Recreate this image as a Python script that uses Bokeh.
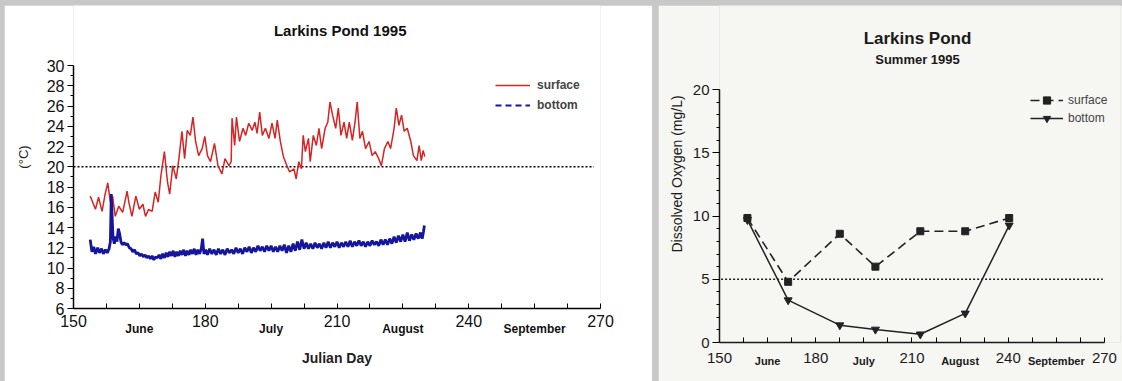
from bokeh.plotting import figure
from bokeh.models import (Range1d, FixedTicker, Legend, LegendItem, LinearAxis, Label)
from bokeh.layouts import row
from bokeh.embed import file_html
from bokeh.resources import INLINE

FONT = "Liberation Sans"

# ---------------- data: temperature (left panel) ----------------
surface_day = [153.8, 154.1, 155.0, 155.7, 156.5, 157.2, 157.8, 158.4, 158.9, 159.5, 160.3, 161.2,
               162.2, 162.6, 163.3, 164.2, 165.0, 165.8, 166.4, 167.1, 167.9, 168.6, 169.3, 169.9,
               170.7, 171.4, 171.9, 172.6, 173.4, 174.0, 174.7, 175.3, 175.9, 176.6, 177.2, 177.8,
               178.5, 179.3, 179.9, 180.5, 181.2, 182.1, 182.9, 183.8, 184.5, 185.4, 185.9, 186.1,
               186.7, 187.1, 187.8, 188.6, 189.2, 189.9, 190.7, 191.3, 191.8, 192.4, 193.0, 193.7,
               194.5, 195.2, 195.9, 196.4, 197.1, 197.8, 198.6, 199.2, 200.2, 200.7, 201.3, 201.9,
               202.3, 202.8, 203.5, 203.9, 204.6, 205.3, 205.9, 206.5, 207.3, 207.9, 208.4, 209.0,
               209.7, 210.3, 210.9, 211.6, 212.2, 212.8, 213.5, 214.1, 214.6, 215.2, 215.8, 216.5,
               217.3, 218.0, 218.7, 219.5, 220.1, 220.8, 221.6, 222.2, 223.0, 223.5, 224.1, 224.7,
               225.3, 226.0, 226.8, 227.4, 228.2, 228.7, 229.2, 229.6, 230.0]
surface_temp = [17.1, 16.8, 15.8, 17.0, 15.6, 17.3, 18.4, 16.5, 17.1, 15.1, 16.1, 15.5,
                17.6, 16.5, 15.1, 17.1, 15.8, 16.3, 15.1, 15.8, 15.6, 17.5, 16.5, 19.1,
                21.5, 18.5, 17.3, 20.1, 18.8, 20.8, 23.5, 20.8, 23.6, 23.1, 24.9, 22.5,
                21.1, 21.8, 23.0, 21.1, 20.5, 22.3, 20.1, 19.3, 20.8, 20.1, 20.5, 24.8,
                22.1, 24.9, 22.5, 23.8, 23.1, 24.3, 23.6, 24.4, 23.3, 25.4, 23.1, 23.8,
                22.8, 24.3, 22.8, 24.6, 22.5, 21.0, 20.1, 19.5, 19.8, 18.8, 20.5, 19.8,
                23.1, 21.5, 22.8, 20.5, 23.1, 22.1, 23.8, 21.8, 23.8, 24.4, 26.4, 25.1,
                23.8, 25.8, 23.1, 24.4, 22.8, 24.4, 22.6, 24.4, 26.4, 22.8, 23.5, 21.8,
                22.5, 21.1, 21.5, 20.8, 20.1, 21.8, 22.5, 21.8, 23.8, 25.8, 24.1, 25.1,
                23.5, 23.8, 22.5, 21.1, 20.6, 22.1, 20.6, 21.6, 21.0]

bottom_day = [153.8, 154.2, 154.6, 155.0, 155.5, 155.9, 156.4, 156.8, 157.3, 157.7, 158.1, 158.4,
              158.6, 158.8, 159.0, 159.3, 159.6, 159.9, 160.2, 160.5, 160.8, 161.1, 161.5, 161.9,
              162.3, 162.7, 163.1, 163.5, 163.9, 164.3, 164.7, 165.1, 165.5, 165.9, 166.3, 166.7,
              167.1, 167.5, 167.9, 168.3, 168.7, 169.1, 169.5, 169.9, 170.3, 170.7, 171.1, 171.5,
              171.9, 172.3, 172.7, 173.1, 173.5, 173.9, 174.3, 174.7, 175.1, 175.5, 175.9, 176.3,
              176.7, 177.1, 177.5, 177.9, 178.3, 178.7, 179.1, 179.4, 179.7, 180.1, 180.5, 181.0,
              181.5, 182.0, 182.5, 183.0, 183.5, 184.0, 184.5, 185.0, 185.5, 186.0, 186.5, 187.0,
              187.5, 188.0, 188.5, 189.0, 189.5, 190.0, 190.5, 191.0, 191.5, 192.0, 192.5, 193.0,
              193.5, 194.0, 194.5, 195.0, 195.5, 196.0, 196.5, 197.0, 197.5, 198.0, 198.5, 199.0,
              199.5, 200.0, 200.5, 201.0, 201.5, 202.0, 202.5, 203.0, 203.5, 204.0, 204.5, 205.0,
              205.5, 206.0, 206.5, 207.0, 207.5, 208.0, 208.5, 209.0, 209.5, 210.0, 210.5, 211.0,
              211.5, 212.0, 212.5, 213.0, 213.5, 214.0, 214.5, 215.0, 215.5, 216.0, 216.5, 217.0,
              217.5, 218.0, 218.5, 219.0, 219.5, 220.0, 220.5, 221.0, 221.5, 222.0, 222.5, 223.0,
              223.5, 224.0, 224.5, 225.0, 225.5, 226.0, 226.5, 227.0, 227.5, 228.0, 228.5, 229.0,
              229.4, 229.7, 229.9]
bottom_temp = [12.8, 11.6, 12.1, 11.4, 12.0, 11.5, 11.9, 11.4, 11.8, 11.5, 11.9, 12.6,
               17.3, 15.0, 13.0, 12.4, 13.1, 12.6, 13.9, 13.4, 12.6, 12.3, 12.5, 12.3,
               12.4, 12.0, 11.9, 11.6, 11.8, 11.4, 11.5, 11.2, 11.4, 11.1, 11.3, 11.0,
               11.2, 10.9, 11.2, 10.8, 11.1, 11.0, 11.3, 10.9, 11.4, 11.0, 11.5, 11.1,
               11.6, 11.2, 11.7, 11.1, 11.6, 11.2, 11.7, 11.3, 11.8, 11.2, 11.7, 11.3,
               11.8, 11.4, 11.9, 11.3, 11.8, 11.4, 11.9, 12.9, 11.4, 11.8, 11.3, 11.9,
               11.4, 11.8, 11.3, 11.9, 11.4, 11.8, 11.3, 11.9, 11.5, 11.8, 11.4, 12.0,
               11.5, 11.9, 11.4, 12.0, 11.6, 12.1, 11.5, 12.0, 11.6, 12.2, 11.7, 12.1,
               11.6, 12.2, 11.7, 12.2, 11.6, 12.1, 11.6, 12.2, 11.7, 12.3, 11.5, 12.2,
               11.6, 12.4, 11.7, 12.6, 11.8, 12.8, 11.9, 12.5, 11.9, 12.4, 11.9, 12.5,
               12.0, 12.4, 11.9, 12.5, 12.0, 12.6, 12.0, 12.5, 12.1, 12.6, 12.0, 12.5,
               12.1, 12.6, 12.1, 12.7, 12.1, 12.6, 12.2, 12.7, 12.2, 12.6, 12.1, 12.6,
               12.2, 12.7, 12.3, 12.6, 12.2, 12.8, 12.3, 12.8, 12.3, 12.9, 12.4, 13.1,
               12.5, 13.2, 12.6, 13.3, 12.6, 13.5, 12.7, 13.3, 12.8, 13.4, 12.9, 13.5,
               12.9, 13.6, 14.2]

temp_threshold_day = [150, 268.5]
temp_threshold = [20, 20]

# ---------------- data: dissolved oxygen (right panel) ----------------
do_day = [158.7, 171.4, 187.5, 198.6, 212.6, 226.6, 240.3]
do_surface = [9.85, 4.8, 8.6, 6.0, 8.8, 8.8, 9.85]
do_bottom = [9.7, 3.35, 1.37, 1.03, 0.65, 2.3, 9.27]
do_threshold_day = [150.5, 269.5]
do_threshold = [5, 5]

# ---------------- axis tick labels ----------------
x_major = [150, 180, 210, 240, 270]
x_minor = [157.5, 165, 172.5, 187.5, 195, 202.5, 217.5, 225, 232.5, 247.5, 255, 262.5]
month_days = [165, 195, 225, 255]
month_names = ["June", "July", "August", "September"]

RED = "#d42424"
BLUE = "#16169c"


def month_axis(p, standoff, size, color):
    ax = LinearAxis(ticker=FixedTicker(ticks=month_days),
                    major_label_overrides=dict(zip(month_days, month_names)))
    ax.axis_line_color = None
    ax.major_tick_line_color = None
    ax.minor_tick_line_color = None
    ax.major_label_standoff = standoff
    ax.major_label_text_font = FONT
    ax.major_label_text_font_size = size
    ax.major_label_text_font_style = "bold"
    ax.major_label_text_color = color
    p.add_layout(ax, "below")
    return ax


# ======================= LEFT PANEL =======================
# frame reaches the top edge so that the title label sits inside it; the y axis is bounded to 6-30
p1 = figure(width=648, height=376, output_backend="svg", toolbar_location=None, title=None,
            x_range=Range1d(150, 270), y_range=Range1d(6, 35.93),
            min_border_left=69, min_border_right=52, min_border_top=0, min_border_bottom=73)
p1.frame_align = False
p1.outline_line_color = None
p1.grid.visible = False
p1.background_fill_color = "white"
p1.border_fill_color = "white"

p1.add_layout(Label(x=266.7, y=277.7, x_units="screen", y_units="screen",
                    text="Larkins Pond 1995", text_font=FONT, text_font_size="15px",
                    text_font_style="bold", text_align="center", text_baseline="middle",
                    text_color="#111111"))

p1.line(temp_threshold_day, temp_threshold, line_color="black", line_width=1.6, line_dash="2 2")
s_temp = p1.line(surface_day, surface_temp, line_color=RED, line_width=1.5)
p1.line(bottom_day, bottom_temp, line_color=BLUE, line_width=2.8)

xa = p1.xaxis[0]
xa.ticker = FixedTicker(ticks=x_major, minor_ticks=x_minor)
xa.major_tick_in = 5
xa.major_tick_out = 0
xa.minor_tick_in = 5
xa.minor_tick_out = 0
xa.major_label_standoff = 6
xa.major_label_text_font = FONT
xa.major_label_text_font_size = "16px"
xa.major_label_text_color = "#111111"
xa.axis_line_width = 1.5

mx1 = month_axis(p1, -14, "12px", "#111111")
mx1.axis_label = "Julian Day"
mx1.axis_label_text_font = FONT
mx1.axis_label_text_font_size = "14px"
mx1.axis_label_text_font_style = "bold"
mx1.axis_label_text_color = "#222222"
mx1.axis_label_standoff = 11

ya = p1.yaxis[0]
ya.bounds = (6, 30)
ya.ticker = FixedTicker(ticks=list(range(6, 31, 2)), minor_ticks=list(range(7, 30, 2)))
ya.major_tick_in = 0
ya.major_tick_out = 6
ya.minor_tick_in = 0
ya.minor_tick_out = 3
ya.major_label_standoff = 3
ya.major_label_text_font = FONT
ya.major_label_text_font_size = "16px"
ya.major_label_text_color = "#111111"
ya.axis_line_width = 1.5
ya.axis_label = "(°C)"
ya.axis_label_text_font = FONT
ya.axis_label_text_font_size = "13px"
ya.axis_label_text_font_style = "normal"
ya.axis_label_text_color = "#222222"
ya.axis_label_standoff = 13

# legend sample for the bottom series is drawn dashed, as in the original key
leg_b = p1.line(bottom_day[:1], bottom_temp[:1], line_color=BLUE, line_width=2, line_dash="6 4")
leg1 = Legend(items=[LegendItem(label="surface", renderers=[s_temp]),
                     LegendItem(label="bottom", renderers=[leg_b])],
              location=(422, 193), glyph_width=35, glyph_height=20, label_height=20,
              label_standoff=7, spacing=0, padding=0, margin=0,
              label_text_font=FONT, label_text_font_size="12px", label_text_font_style="bold",
              background_fill_alpha=0, border_line_alpha=0)
p1.add_layout(leg1)

# ======================= RIGHT PANEL =======================
BG2 = "#f6f6f3"
p2 = figure(width=464, height=376, output_backend="svg", toolbar_location=None, title=None,
            x_range=Range1d(150, 275), y_range=Range1d(0, 26.66),
            min_border_left=61, min_border_right=2, min_border_top=0, min_border_bottom=39)
p2.frame_align = False
p2.outline_line_color = None
p2.grid.visible = False
p2.background_fill_color = BG2
p2.border_fill_color = BG2

p2.add_layout(Label(x=198, y=304.3, x_units="screen", y_units="screen",
                    text="Larkins Pond", text_font=FONT, text_font_size="17px",
                    text_font_style="bold", text_align="center", text_baseline="middle",
                    text_color="#1a1a1a"))
p2.add_layout(Label(x=198, y=283.3, x_units="screen", y_units="screen",
                    text="Summer 1995", text_font=FONT, text_font_size="13px",
                    text_font_style="bold", text_align="center", text_baseline="middle",
                    text_color="#1a1a1a"))

p2.line(do_threshold_day, do_threshold, line_color="#222222", line_width=1.5, line_dash="2 2")
s_line = p2.line(do_day, do_surface, line_color="#222222", line_width=1.6, line_dash="9 5")
s_pts = p2.scatter(do_day, do_surface, marker="square", size=7, color="#222222")
b_line = p2.line(do_day, do_bottom, line_color="#222222", line_width=1.5)
b_pts = p2.scatter(do_day, do_bottom, marker="inverted_triangle", size=8, color="#222222")

xb = p2.xaxis[0]
xb.ticker = FixedTicker(ticks=x_major, minor_ticks=x_minor)
xb.bounds = (150, 270)
xb.major_tick_in = 5
xb.major_tick_out = 0
xb.minor_tick_in = 5
xb.minor_tick_out = 0
xb.major_label_standoff = 10
xb.major_label_text_font = FONT
xb.major_label_text_font_size = "15px"
xb.major_label_text_color = "#1a1a1a"
xb.axis_line_width = 1.5
xb.axis_line_color = "#1a1a1a"

month_axis(p2, -17, "11px", "#1a1a1a")

yb = p2.yaxis[0]
yb.bounds = (0, 20)
yb.ticker = FixedTicker(ticks=[0, 5, 10, 15, 20],
                        minor_ticks=[v for v in range(1, 20) if v % 5 != 0])
yb.major_tick_in = 0
yb.major_tick_out = 7
yb.minor_tick_in = 0
yb.minor_tick_out = 3
yb.major_label_standoff = 3
yb.major_label_text_font = FONT
yb.major_label_text_font_size = "15px"
yb.major_label_text_color = "#1a1a1a"
yb.axis_line_width = 1.5
yb.axis_line_color = "#1a1a1a"
yb.axis_label = "Dissolved Oxygen (mg/L)"
yb.axis_label_text_font = FONT
yb.axis_label_text_font_size = "14px"
yb.axis_label_text_font_style = "normal"
yb.axis_label_text_color = "#1a1a1a"
yb.axis_label_standoff = 5

leg2 = Legend(items=[LegendItem(label="surface", renderers=[s_line, s_pts]),
                     LegendItem(label="bottom", renderers=[b_line, b_pts])],
              location=(311, 215), glyph_width=33, glyph_height=18, label_height=18,
              label_standoff=5, spacing=0, padding=0, margin=0,
              label_text_font=FONT, label_text_font_size="12px",
              background_fill_alpha=0, border_line_alpha=0)
p2.add_layout(leg2)

layout = row(p1, p2, spacing=6,
             styles={"background-color": "#c8c8c8", "padding-top": "5px", "padding-left": "4px"})

open("out.html", "w").write(file_html(layout, INLINE))
